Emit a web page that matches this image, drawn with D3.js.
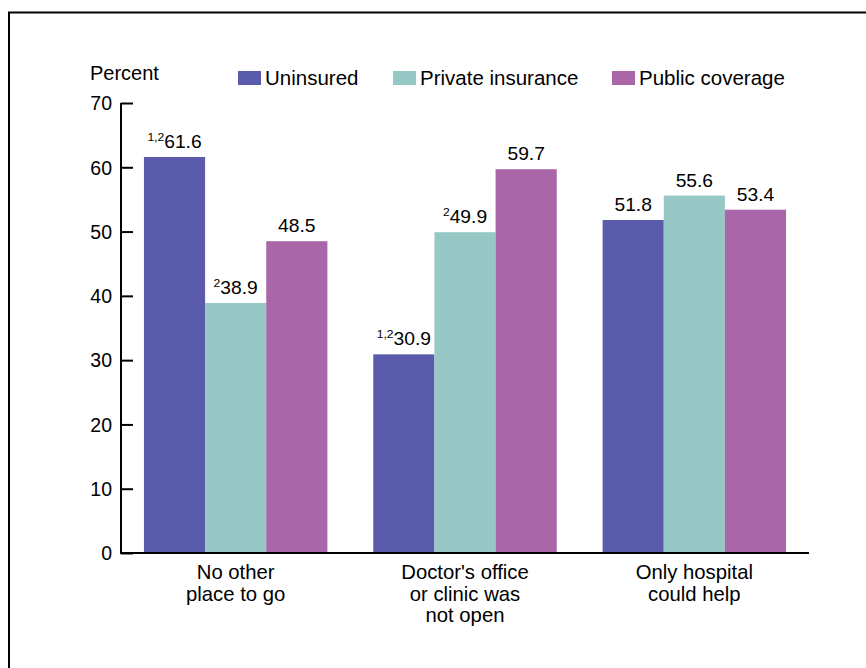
<!DOCTYPE html>
<html><head><meta charset="utf-8">
<script src="https://cdn.jsdelivr.net/npm/d3@7"></script>
<style>body{margin:0;background:#fff;} svg{display:block;font-family:"Liberation Sans",Arial,sans-serif;}</style>
</head><body>
<svg id="c" width="866" height="668"></svg>
<script>
const categories = [["No other","place to go"],["Doctor's office","or clinic was","not open"],["Only hospital","could help"]];
const seriesNames = ["Uninsured","Private insurance","Public coverage"];
const uninsured = [61.6, 30.9, 51.8];
const privateIns = [38.9, 49.9, 55.6];
const publicCov = [48.5, 59.7, 53.4];
const uninsuredNotes = ["1,2","1,2",""];
const privateNotes = ["2","2",""];
const publicNotes = ["","",""];
const yTicks = [0,10,20,30,40,50,60,70];
const colors = ["#5b5bab","#97c8c5","#a966a9"];

const series = [uninsured, privateIns, publicCov];
const notes = [uninsuredNotes, privateNotes, publicNotes];

const svg = d3.select("#c");
// frame
svg.append("path").attr("d","M9,668 V12.5 H866").attr("fill","none").attr("stroke","#000").attr("stroke-width",2);

const x0 = d3.scaleBand().domain(d3.range(categories.length)).range([121,809]).paddingInner(0.2).paddingOuter(0.1);
const x1 = d3.scaleBand().domain(d3.range(series.length)).range([0,x0.bandwidth()]);
const y = d3.scaleLinear().domain([0,70]).range([553,103]);

// bars
const g = svg.append("g");
series.forEach((vals,si)=>{
  vals.forEach((v,ci)=>{
    const bx = x0(ci)+x1(si);
    g.append("rect").attr("x",bx).attr("y",y(v)).attr("width",x1.bandwidth()).attr("height",y(0)-y(v)).attr("fill",colors[si]);
    const t = g.append("text").attr("transform",`translate(${bx+x1.bandwidth()/2},${y(v)-9}) scale(1.1,1)`).attr("text-anchor","middle").attr("font-size",17.5).attr("fill","#000");
    if(notes[si][ci]) t.append("tspan").attr("font-size",11).attr("dy",-7).text(notes[si][ci]);
    t.append("tspan").attr("dy",notes[si][ci]?7:0).text(v.toFixed(1));
  });
});

// y axis
const ya = svg.append("g").attr("transform","translate(121,0)")
  .call(d3.axisLeft(y).tickValues(yTicks).tickSize(-12).tickPadding(9).tickFormat(d3.format("d")));
ya.select(".domain").attr("d",`M0,${y(70)}V${y(0)}`).attr("stroke","#000").attr("stroke-width",2);
ya.selectAll(".tick line").attr("stroke","#000").attr("stroke-width",2);
ya.selectAll(".tick text").attr("font-size",19.5).attr("fill","#000").attr("font-family","Liberation Sans, Arial, sans-serif").attr("dy","0.35em");

// x axis
svg.append("line").attr("x1",120).attr("x2",809).attr("y1",y(0)).attr("y2",y(0)).attr("stroke","#000").attr("stroke-width",2);
categories.forEach((lines,ci)=>{
  const cx = x0(ci)+x0.bandwidth()/2;
  const t = svg.append("text").attr("x",cx).attr("y",579).attr("text-anchor","middle").attr("font-size",20.3).attr("fill","#000");
  lines.forEach((l,i)=>t.append("tspan").attr("x",cx).attr("dy",i?21.5:0).text(l));
});

// y label
svg.append("text").attr("x",90).attr("y",80).attr("font-size",20).text("Percent");

// legend
const legX = [238,393,612];
seriesNames.forEach((n,i)=>{
  svg.append("rect").attr("x",legX[i]).attr("y",71).attr("width",23).attr("height",14).attr("fill",colors[i]);
  svg.append("text").attr("x",legX[i]+27).attr("y",85).attr("font-size",20.5).text(n);
});
</script>
</body></html>
